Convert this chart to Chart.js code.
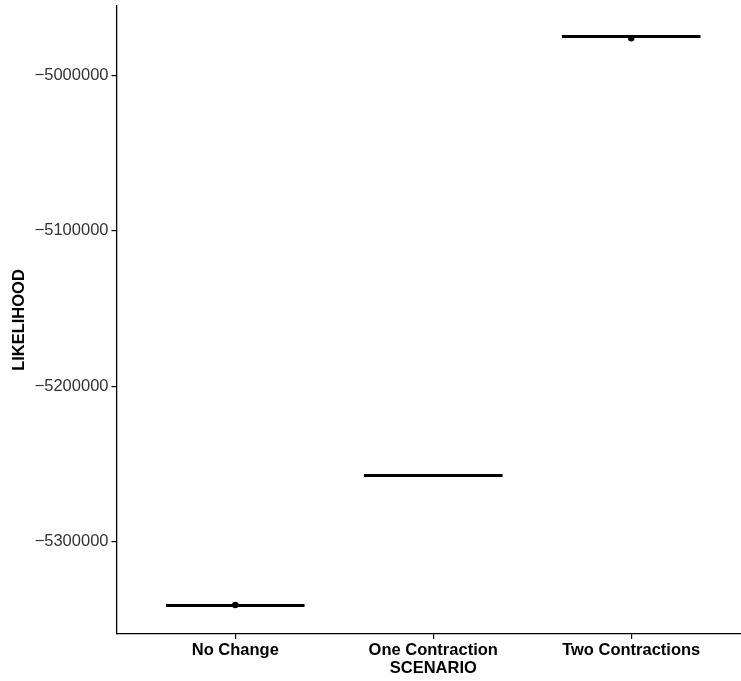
<!DOCTYPE html>
<html>
<head>
<meta charset="utf-8">
<script src="https://cdn.jsdelivr.net/npm/chart.js@4.4.0/dist/chart.umd.min.js"></script>
<style>
  html, body { margin: 0; padding: 0; background: #fff; overflow: hidden; }
  #wrap { width: 760px; height: 681px; }
</style>
</head>
<body>
<div id="wrap"><canvas id="myChart"></canvas></div>
<script>
// scenarios on the x axis
var scenarios = ['No Change', 'One Contraction', 'Two Contractions'];
// median likelihood per scenario (boxes are so thin they collapse to a line)
var medians = [-5341000, -5257300, -4975000];
// outlier dots: scenario index and value
var outlierScenario = [0, 2];
var outlierValues = [-5340600, -4976000];
var yTickValues = [-5000000, -5100000, -5200000, -5300000];

const Y_MIN = -5359300;
const Y_MAX = -4955300;
const BOX_HALF = 0.35;
const FONT = "'Liberation Sans', Arial, Helvetica, sans-serif";

var ctx = document.querySelector('#myChart');

function buildMedianSegments(){
  var pts = [];
  medians.forEach((m, i) => {
    pts.push({x: i + 1 - BOX_HALF, y: m});
    pts.push({x: i + 1 + BOX_HALF, y: m});
    pts.push({x: i + 1 + BOX_HALF, y: null});
  });
  return pts;
}

function buildOutliers(){
  return outlierScenario.map((s, i) => ({x: s + 1, y: outlierValues[i]}));
}

function minusLabel(v){
  return v < 0 ? '\u2212' + Math.abs(v) : String(v);
}

var chart = new Chart(ctx, {
  type: 'scatter',
  data: {
    datasets: [
      {
        label: 'median',
        data: buildMedianSegments(),
        showLine: true,
        spanGaps: false,
        borderColor: '#000',
        borderWidth: 3,
        pointRadius: 0,
        borderCapStyle: 'butt'
      },
      {
        label: 'outliers',
        data: buildOutliers(),
        backgroundColor: '#000',
        borderColor: '#000',
        pointRadius: 3.2,
        borderWidth: 0
      }
    ]
  },
  options: {
    animation: false,
    responsive: true,
    maintainAspectRatio: false,
    layout: { padding: { left: 0, right: 10, top: 6, bottom: 0 } },
    plugins: { legend: { display: false }, tooltip: { enabled: false } },
    scales: {
      x: {
        type: 'linear',
        min: 0.4,
        max: 3.6,
        afterBuildTicks: (scale) => {
          scale.ticks = scenarios.map((s, i) => ({value: i + 1}));
        },
        afterFit: (scale) => {
          scale.height = 47;
          scale.paddingLeft = 0;
          scale.paddingRight = 0;
        },
        ticks: {
          callback: (v) => scenarios[v - 1],
          color: '#000',
          padding: 2,
          maxRotation: 0,
          font: { family: FONT, size: 16.5, weight: 'bold' }
        },
        grid: { display: true, drawOnChartArea: false, drawTicks: true, tickLength: 5, color: '#000', lineWidth: 1.2 },
        border: { display: true, color: '#000', width: 1.3 },
        title: {
          display: true,
          text: 'SCENARIO',
          color: '#000',
          padding: { top: 0, bottom: 3 },
          font: { family: FONT, size: 16.5, weight: 'bold' }
        }
      },
      y: {
        min: Y_MIN,
        max: Y_MAX,
        afterBuildTicks: (scale) => {
          scale.ticks = yTickValues.map(v => ({value: v}));
        },
        afterFit: (scale) => {
          scale.width = 116.5;
          scale.paddingTop = 0;
          scale.paddingBottom = 0;
        },
        ticks: {
          callback: minusLabel,
          color: '#333',
          padding: 3,
          font: { family: FONT, size: 16.5 }
        },
        grid: { display: true, drawOnChartArea: false, drawTicks: true, tickLength: 5, color: '#000', lineWidth: 1.2 },
        border: { display: true, color: '#000', width: 1.3 },
        title: {
          display: true,
          text: 'LIKELIHOOD',
          color: '#000',
          padding: { top: 10, bottom: 0 },
          font: { family: FONT, size: 16.5, weight: 'bold' }
        }
      }
    }
  }
});
</script>
</body>
</html>
